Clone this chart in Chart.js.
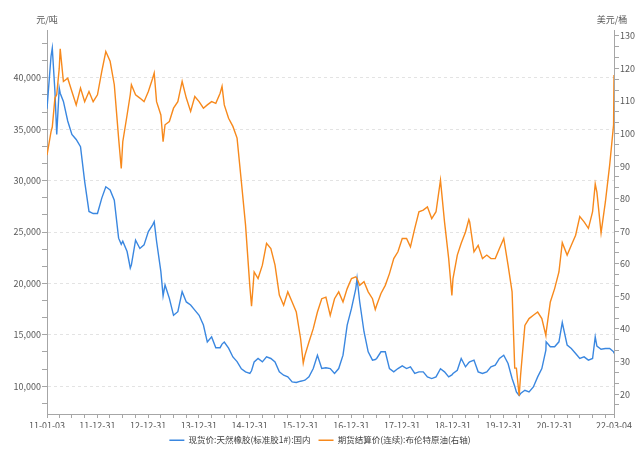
<!DOCTYPE html>
<html>
<head>
<meta charset="utf-8">
<title>天然橡胶现货价与布伦特原油</title>
<script src="https://cdn.jsdelivr.net/npm/chart.js@4.4.0/dist/chart.umd.min.js"></script>
<style>
  html, body { margin: 0; padding: 0; background: #fff; }
  canvas { display: block; }
</style>
</head>
<body>
<canvas id="chart" width="640" height="450"></canvas>
<script>
// Series values (monthly, plus turning points)
const dates = [
  '2011-01-03','2011-02-01','2011-02-10','2011-03-01','2011-03-14','2011-04-01','2011-04-08','2011-05-01',
  '2011-06-01','2011-07-01','2011-08-01','2011-09-01','2011-10-01','2011-11-01','2011-12-01','2012-01-01',
  '2012-02-01','2012-03-01','2012-04-01','2012-05-01','2012-06-01','2012-06-20','2012-07-01','2012-08-01',
  '2012-08-24','2012-09-01','2012-10-01','2012-11-01','2012-12-01','2013-01-01','2013-02-01','2013-02-12',
  '2013-03-01','2013-04-01','2013-04-17','2013-05-01','2013-06-01','2013-07-01','2013-08-01','2013-09-01',
  '2013-10-01','2013-11-01','2013-12-01','2014-01-01','2014-02-01','2014-03-01','2014-04-01','2014-05-01',
  '2014-06-01','2014-06-15','2014-07-01','2014-08-01','2014-09-01','2014-10-01','2014-11-01','2014-12-01',
  '2015-01-01','2015-01-13','2015-02-01','2015-03-01','2015-04-01','2015-05-01','2015-06-01','2015-07-01',
  '2015-08-01','2015-09-01','2015-10-01','2015-11-01','2015-12-01','2016-01-01','2016-01-20','2016-02-01',
  '2016-03-01','2016-04-01','2016-05-01','2016-06-01','2016-07-01','2016-08-01','2016-09-01','2016-10-01',
  '2016-11-01','2016-12-01','2017-01-01','2017-02-01','2017-02-10','2017-03-01','2017-04-01','2017-05-01',
  '2017-06-01','2017-06-21','2017-07-01','2017-08-01','2017-09-01','2017-10-01','2017-11-01','2017-12-01',
  '2018-01-01','2018-02-01','2018-03-01','2018-04-01','2018-05-01','2018-06-01','2018-07-01','2018-08-01',
  '2018-09-01','2018-10-03','2018-11-01','2018-12-01','2018-12-24','2019-01-01','2019-02-01','2019-03-01',
  '2019-04-01','2019-04-25','2019-05-01','2019-06-01','2019-07-01','2019-08-01','2019-09-01','2019-10-01',
  '2019-11-01','2019-12-01','2020-01-01','2020-02-01','2020-03-01','2020-03-20','2020-04-01','2020-04-21',
  '2020-05-01','2020-06-01','2020-07-01','2020-08-01','2020-09-01','2020-10-01','2020-10-30','2020-11-01',
  '2020-12-01','2021-01-01','2021-02-01','2021-02-25','2021-04-01','2021-05-01','2021-06-01','2021-07-01',
  '2021-08-01','2021-09-01','2021-10-01','2021-10-20','2021-11-01','2021-12-01','2022-01-01','2022-02-01',
  '2022-03-01','2022-03-04'
];

// 现货价:天然橡胶(标准胶1#):国内, 元/吨
const rubberSpot = [
  37000, 42100, 42900, 38700, 34500, 39000, 38500, 37700,
  35800, 34500, 34000, 33300, 29900, 27000, 26800, 26800,
  28300, 29400, 29100, 28100, 24400, 23800, 24100, 23100,
  21500, 21800, 24200, 23400, 23750, 25050, 25700, 26000,
  24100, 21150, 18800, 19850, 18550, 16900, 17250, 19200,
  18200, 17900, 17400, 16900, 15950, 14300, 14800, 13750,
  13750, 14100, 14300, 13700, 12850, 12400, 11700, 11400,
  11240, 11500, 12370, 12700, 12370, 12860, 12700, 12370,
  11400, 11070, 10910, 10420, 10360, 10490, 10550, 10590,
  10910, 11720, 13020, 11720, 11800, 11720, 11240, 11720,
  13020, 15950, 17570, 19500, 20500, 18220, 15300, 13350,
  12540, 12600, 12700, 13350, 13350, 11720, 11400, 11720,
  11980, 11720, 11890, 11240, 11400, 11400, 10910, 10750,
  10910, 11700, 11400, 10910, 11100, 11240, 11560, 12700,
  11890, 12300, 12370, 12540, 11400, 11240, 11400, 11890,
  12050, 12700, 13020, 12210, 10750, 10000, 9450, 9100,
  9290, 9610, 9450, 9935, 10910, 11720, 13500, 14320,
  13840, 13840, 14320, 16200, 14000, 13670, 13190, 12700,
  12860, 12540, 12700, 14800, 13900, 13600, 13670, 13670,
  13350, 13190
];

// 期货结算价(连续):布伦特原油, 美元/桶 (右轴)
const brentSettle = [
  93.4, 100.6, 102.0, 110.9, 112.0, 120.0, 126.0, 116.0,
  117.0, 112.9, 108.8, 114.0, 109.8, 112.9, 109.8, 111.9,
  119.1, 125.2, 122.2, 115.0, 98.6, 89.3, 97.5, 105.7,
  112.0, 115.0, 111.9, 110.9, 109.8, 112.9, 117.0, 118.6,
  109.8, 105.7, 97.5, 102.7, 103.7, 107.8, 109.8, 116.0,
  110.9, 106.8, 111.4, 109.8, 107.8, 108.8, 109.8, 109.3,
  112.4, 114.5, 108.8, 104.7, 102.2, 98.6, 85.2, 71.9,
  53.0, 47.0, 57.5, 55.5, 59.6, 66.3, 64.7, 59.6,
  50.4, 47.3, 51.4, 48.3, 45.2, 37.0, 29.5, 31.9,
  36.0, 40.1, 45.2, 49.3, 49.8, 44.2, 49.3, 51.4,
  48.3, 52.4, 55.5, 56.0, 55.5, 53.4, 54.5, 51.4,
  49.3, 46.0, 47.3, 50.9, 53.4, 57.0, 61.6, 63.7,
  67.8, 67.8, 65.2, 70.9, 76.0, 76.5, 77.5, 73.9,
  76.0, 85.7, 72.9, 61.6, 50.3, 55.5, 62.7, 66.3,
  69.8, 73.6, 72.9, 63.7, 65.7, 61.6, 62.7, 61.6,
  61.6, 64.7, 67.8, 59.6, 51.4, 28.0, 28.0, 19.5,
  25.7, 41.1, 43.2, 44.2, 45.2, 43.2, 38.0, 39.0,
  48.3, 52.4, 57.5, 66.5, 62.7, 65.7, 68.8, 74.5,
  72.9, 70.9, 76.0, 84.5, 82.0, 69.5, 79.0, 90.4,
  102.7, 118.0
];

const seriesNames = ['现货价:天然橡胶(标准胶1#):国内', '期货结算价(连续):布伦特原油(右轴)'];
const unitLeft = '元/吨';
const unitRight = '美元/桶';

// x axis: labelled dates, unlabelled quarter ticks in between
const xStart = '2011-01-03';
const xEnd = '2022-03-04';
const xLabelDates = [
  '2011-01-03', '2011-12-31', '2012-12-31', '2013-12-31', '2014-12-31', '2015-12-31',
  '2016-12-31', '2017-12-31', '2018-12-31', '2019-12-31', '2020-12-31', '2022-03-04'
];
const quarterEnds = ['-03-31', '-06-30', '-09-30', '-12-31'];

// y axes ranges; major ticks every 5000 / 10, two minor ticks between
const leftMin = 7300, leftMax = 44650, leftMajor = 5000;
const rightMin = 13.9, rightMax = 131.8, rightMajor = 10;

const FONT = "'Noto Sans CJK SC', 'Noto Sans', sans-serif";
const AXIS_COLOR = '#a6a6a6';
const TEXT_COLOR = '#595959';
const BLUE = '#3a87e0';
const ORANGE = '#f7891c';

const toTime = s => Date.parse(s);

function buildXTicks() {
  const set = new Set(xLabelDates.map(toTime));
  for (let y = 2011; y <= 2021; y++) {
    quarterEnds.forEach(q => set.add(toTime(y + q)));
  }
  return [...set].filter(v => v >= toTime(xStart) && v <= toTime(xEnd)).sort((a, b) => a - b);
}

function buildYTicks(min, max, major) {
  const step = major / 3;
  const ticks = [];
  for (let k = Math.ceil(min / step); k * step <= max; k++) ticks.push({ value: k * step });
  return ticks;
}

function isMajor(v, major) {
  const r = Math.round(v);
  return Math.abs(v - r) < 1e-6 && r % major === 0;
}

const xLabelMap = {};
xLabelDates.forEach(d => { xLabelMap[toTime(d)] = d.slice(2); });

const unitTitles = {
  id: 'unitTitles',
  afterDraw(chart) {
    const { ctx, chartArea } = chart;
    ctx.save();
    ctx.font = '9px ' + FONT;
    ctx.fillStyle = TEXT_COLOR;
    ctx.textAlign = 'center';
    ctx.textBaseline = 'middle';
    ctx.fillText(unitLeft, chartArea.left, chartArea.top - 10);
    ctx.fillText(unitRight, chartArea.right - 2, chartArea.top - 10);
    ctx.restore();
  }
};

new Chart(document.getElementById('chart'), {
  type: 'line',
  data: {
    datasets: [
      {
        label: seriesNames[0],
        data: dates.map((d, i) => ({ x: toTime(d), y: rubberSpot[i] })),
        yAxisID: 'yL',
        borderColor: BLUE,
        backgroundColor: BLUE,
        borderWidth: 1.4,
        pointRadius: 0,
        order: 2
      },
      {
        label: seriesNames[1],
        data: dates.map((d, i) => ({ x: toTime(d), y: brentSettle[i] })),
        yAxisID: 'yR',
        borderColor: ORANGE,
        backgroundColor: ORANGE,
        borderWidth: 1.4,
        pointRadius: 0,
        order: 1
      }
    ]
  },
  options: {
    responsive: false,
    animation: false,
    layout: { padding: { top: 30, bottom: -4.5, left: 0, right: 0 } },
    plugins: {
      tooltip: { enabled: false },
      legend: {
        position: 'bottom',
        labels: {
          usePointStyle: true,
          pointStyle: 'line',
          pointStyleWidth: 15,
          padding: 8,
          color: '#404040',
          font: { family: FONT, size: 8.5 },
          sort: (a, b) => a.datasetIndex - b.datasetIndex
        }
      }
    },
    scales: {
      x: {
        type: 'linear',
        min: toTime(xStart),
        max: toTime(xEnd),
        afterBuildTicks: s => { s.ticks = buildXTicks().map(v => ({ value: v })); },
        afterFit: s => { s.height = 14; },
        ticks: {
          autoSkip: false,
          maxRotation: 0,
          padding: 2,
          color: TEXT_COLOR,
          font: { family: FONT, size: 9 },
          callback: v => xLabelMap[v] || ''
        },
        grid: { drawOnChartArea: false, tickLength: 4, tickColor: AXIS_COLOR },
        border: { color: AXIS_COLOR }
      },
      yL: {
        position: 'left',
        min: leftMin,
        max: leftMax,
        afterBuildTicks: s => { s.ticks = buildYTicks(leftMin, leftMax, leftMajor); },
        afterFit: s => { s.width = 47; },
        ticks: {
          autoSkip: false,
          padding: 1,
          color: TEXT_COLOR,
          font: { family: FONT, size: 9 },
          callback: v => isMajor(v, leftMajor) ? Math.round(v).toLocaleString('en-US') : ''
        },
        grid: {
          tickLength: 5,
          tickColor: AXIS_COLOR,
          color: c => (c.tick && isMajor(c.tick.value, leftMajor)) ? '#e3e3e3' : 'rgba(0,0,0,0)'
        },
        border: { color: AXIS_COLOR, dash: [3, 3] }
      },
      yR: {
        position: 'right',
        min: rightMin,
        max: rightMax,
        afterBuildTicks: s => { s.ticks = buildYTicks(rightMin, rightMax, rightMajor); },
        afterFit: s => { s.width = 26; },
        ticks: {
          autoSkip: false,
          padding: 1,
          color: TEXT_COLOR,
          font: { family: FONT, size: 9 },
          callback: v => isMajor(v, rightMajor) ? String(Math.round(v)) : ''
        },
        grid: { drawOnChartArea: false, tickLength: 5, tickColor: AXIS_COLOR },
        border: { color: AXIS_COLOR }
      }
    }
  },
  plugins: [unitTitles]
});
</script>
</body>
</html>
